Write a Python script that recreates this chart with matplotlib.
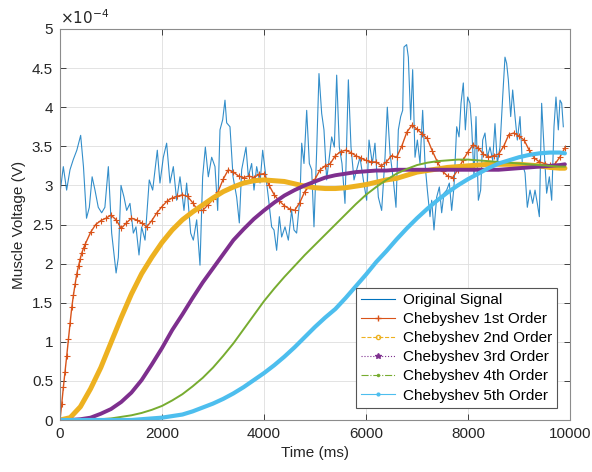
import matplotlib
matplotlib.use("Agg")
import matplotlib.pyplot as plt
from matplotlib.lines import Line2D

plt.rcParams['font.family'] = ['Liberation Sans', 'DejaVu Sans']

# original EMG signal, time in ms, voltage in 1e-4 V
t_raw = [0, 65, 130, 196, 260, 330, 405, 460, 520, 575, 630, 686, 750, 817, 880, 948,
         1013, 1100, 1144, 1196, 1255, 1307, 1372, 1438, 1490, 1549, 1600, 1667, 1750,
         1817, 1908, 1960, 2026, 2091, 2157, 2222, 2287, 2353, 2431, 2483, 2562, 2614,
         2680, 2745, 2797, 2850, 2908, 2974, 3039, 3092, 3137, 3190, 3235, 3268, 3333,
         3393, 3464, 3516, 3562, 3608, 3647, 3693, 3758, 3804, 3856, 3922, 3974, 4020,
         4085, 4150, 4196, 4248, 4301, 4346, 4412, 4477, 4542, 4588, 4640, 4706, 4739,
         4784, 4837, 4889, 4935, 4980, 5033, 5078, 5131, 5176, 5229, 5281, 5327, 5379,
         5425, 5477, 5529, 5588, 5654, 5706, 5765, 5817, 5882, 5948, 6013, 6059, 6124,
         6176, 6242, 6307, 6373, 6418, 6471, 6536, 6588, 6634, 6680, 6719, 6745, 6797,
         6830, 6876, 6915, 6961, 7007, 7059, 7111, 7157, 7203, 7255, 7288, 7333, 7386,
         7438, 7484, 7529, 7582, 7634, 7680, 7725, 7778, 7824, 7863, 7908, 7948, 7993,
         8039, 8072, 8118, 8157, 8203, 8248, 8288, 8333, 8379, 8431, 8484, 8529, 8575,
         8627, 8680, 8725, 8758, 8791, 8837, 8876, 8922, 8967, 9020, 9065, 9118, 9163,
         9216, 9268, 9314, 9359, 9399, 9444, 9490, 9542, 9595, 9641, 9686, 9725, 9771,
         9804, 9837, 9869]
v_raw = [2.90, 3.24, 2.94, 3.20, 3.33, 3.45, 3.64, 3.24, 2.58, 2.72, 3.11, 2.94, 2.72, 2.65,
         2.72, 3.24, 2.39, 1.88, 2.08, 3.00, 2.85, 2.68, 2.77, 2.39, 2.47, 2.11, 2.47, 2.30,
         3.07, 2.94, 3.45, 3.03, 3.36, 3.54, 3.03, 3.24, 2.81, 3.11, 2.68, 3.03, 2.39, 2.30,
         2.56, 1.98, 3.11, 3.49, 3.11, 3.36, 3.24, 2.68, 3.71, 3.84, 4.09, 3.80, 3.75, 3.11,
         2.85, 2.52, 3.20, 3.36, 3.49, 3.11, 3.28, 2.94, 3.24, 3.03, 3.45, 3.20, 2.85, 2.47,
         2.43, 2.17, 2.60, 2.34, 2.47, 2.30, 2.68, 2.43, 2.39, 2.85, 3.54, 3.28, 3.96, 3.28,
         3.20, 2.47, 3.45, 4.43, 3.92, 3.71, 3.07, 3.36, 3.62, 3.49, 4.41, 3.49, 3.28, 2.77,
         4.35, 3.49, 3.07, 3.20, 3.36, 3.07, 2.81, 3.58, 3.28, 3.54, 2.85, 2.68, 3.36, 4.00,
         3.41, 3.07, 2.72, 3.71, 3.88, 3.96, 4.77, 4.80, 4.64, 3.84, 4.48, 3.36, 3.58, 3.28,
         3.96, 3.28, 2.94, 2.60, 2.81, 2.43, 2.85, 2.98, 2.65, 2.90, 2.94, 3.03, 2.68, 2.98,
         3.75, 3.62, 4.05, 4.31, 3.71, 4.13, 4.05, 3.75, 3.11, 3.88, 2.81, 2.94, 3.58, 3.67,
         3.36, 3.49, 3.32, 3.79, 3.28, 3.49, 4.13, 4.64, 4.56, 4.35, 3.88, 4.22, 3.88, 3.58,
         3.88, 3.28, 3.16, 2.72, 2.94, 2.77, 2.94, 2.77, 2.60, 4.05, 3.49, 2.90, 3.11, 2.81,
         3.75, 4.13, 3.71, 4.09, 4.05, 3.75]

# 1st order output
t_o1 = [0, 33, 66, 99, 132, 165, 198, 231, 264, 297, 330, 363, 396, 429, 462, 495,
        600, 700, 800, 900, 1000, 1100, 1200, 1300, 1400, 1500, 1600, 1700, 1800, 1900,
        2000, 2100, 2200, 2300, 2400, 2500, 2600, 2700, 2800, 2900, 3000, 3100, 3200,
        3300, 3400, 3500, 3600, 3700, 3800, 3900, 4000, 4100, 4200, 4300, 4400, 4500,
        4600, 4700, 4800, 4900, 5000, 5100, 5200, 5300, 5400, 5500, 5600, 5700, 5800,
        5900, 6000, 6100, 6200, 6300, 6400, 6500, 6600, 6700, 6800, 6900, 7000, 7100,
        7200, 7300, 7400, 7500, 7600, 7700, 7800, 7900, 8000, 8100, 8200, 8300, 8400,
        8500, 8600, 8700, 8800, 8900, 9000, 9100, 9200, 9300, 9400, 9500, 9600, 9700,
        9800, 9900]
v_o1 = [0.00, 0.20, 0.42, 0.62, 0.82, 1.03, 1.24, 1.44, 1.60, 1.74, 1.87, 1.97, 2.06, 2.14,
        2.20, 2.25, 2.40, 2.50, 2.55, 2.58, 2.62, 2.56, 2.45, 2.52, 2.58, 2.56, 2.52, 2.47,
        2.55, 2.65, 2.73, 2.80, 2.84, 2.86, 2.88, 2.86, 2.78, 2.68, 2.68, 2.75, 2.82, 2.92,
        3.08, 3.20, 3.17, 3.12, 3.10, 3.12, 3.10, 3.14, 3.15, 3.00, 2.88, 2.80, 2.74, 2.70,
        2.68, 2.78, 2.92, 3.00, 3.08, 3.20, 3.25, 3.28, 3.38, 3.43, 3.45, 3.42, 3.38, 3.35,
        3.32, 3.30, 3.30, 3.25, 3.30, 3.38, 3.36, 3.50, 3.68, 3.77, 3.72, 3.66, 3.60, 3.44,
        3.30, 3.18, 3.12, 3.10, 3.20, 3.32, 3.43, 3.52, 3.48, 3.40, 3.36, 3.38, 3.40, 3.50,
        3.65, 3.67, 3.63, 3.58, 3.45, 3.35, 3.30, 3.28, 3.26, 3.27, 3.36, 3.48]

# 2nd to 5th order outputs, sampled every 200 ms
t_filt = [0, 200, 400, 600, 800, 1000, 1200, 1400, 1600, 1800, 2000, 2200, 2400, 2600,
          2800, 3000, 3200, 3400, 3600, 3800, 4000, 4200, 4400, 4600, 4800, 5000, 5200,
          5400, 5600, 5800, 6000, 6200, 6400, 6600, 6800, 7000, 7200, 7400, 7600, 7800,
          8000, 8200, 8400, 8600, 8800, 9000, 9200, 9400, 9600, 9800, 9900]
v_o2 = [0.00, 0.03, 0.17, 0.40, 0.67, 0.99, 1.31, 1.61, 1.87, 2.08, 2.27, 2.43, 2.56, 2.66,
        2.75, 2.84, 2.92, 2.98, 3.03, 3.06, 3.07, 3.06, 3.05, 3.02, 2.99, 2.97, 2.96, 2.96,
        2.97, 2.99, 3.01, 3.04, 3.07, 3.09, 3.13, 3.17, 3.19, 3.21, 3.23, 3.24, 3.25, 3.26,
        3.27, 3.27, 3.27, 3.27, 3.26, 3.25, 3.23, 3.22, 3.22]
v_o3 = [0.00, 0.00, 0.01, 0.03, 0.08, 0.14, 0.23, 0.35, 0.51, 0.71, 0.92, 1.15, 1.35, 1.56,
        1.76, 1.94, 2.12, 2.30, 2.44, 2.57, 2.68, 2.78, 2.87, 2.94, 3.00, 3.05, 3.10, 3.13,
        3.15, 3.17, 3.18, 3.19, 3.19, 3.20, 3.20, 3.20, 3.20, 3.20, 3.20, 3.20, 3.20, 3.20,
        3.20, 3.20, 3.21, 3.22, 3.23, 3.24, 3.25, 3.26, 3.27]
v_o4 = [0.00, 0.00, 0.00, 0.01, 0.01, 0.02, 0.04, 0.06, 0.09, 0.13, 0.18, 0.25, 0.33, 0.43,
        0.54, 0.67, 0.82, 0.98, 1.16, 1.34, 1.52, 1.68, 1.83, 1.97, 2.11, 2.24, 2.37, 2.50,
        2.63, 2.76, 2.88, 2.98, 3.07, 3.15, 3.21, 3.26, 3.29, 3.31, 3.32, 3.33, 3.33, 3.32,
        3.31, 3.30, 3.29, 3.28, 3.27, 3.26, 3.25, 3.24, 3.24]
v_o5 = [0.00, 0.00, 0.00, 0.00, 0.00, 0.00, 0.00, 0.00, 0.01, 0.02, 0.03, 0.05, 0.07, 0.11,
        0.16, 0.21, 0.27, 0.34, 0.42, 0.51, 0.60, 0.70, 0.81, 0.93, 1.06, 1.19, 1.31, 1.42,
        1.56, 1.71, 1.86, 2.02, 2.16, 2.31, 2.45, 2.58, 2.70, 2.81, 2.91, 3.00, 3.08, 3.15,
        3.22, 3.28, 3.32, 3.36, 3.39, 3.41, 3.42, 3.42, 3.41]

labels = ['Original Signal', 'Chebyshev 1st Order', 'Chebyshev 2nd Order',
          'Chebyshev 3rd Order', 'Chebyshev 4th Order', 'Chebyshev 5th Order']
colors = ['#0072BD', '#D95319', '#EDB120', '#7E2F8E', '#77AC30', '#4DBEEE']

fig = plt.figure(figsize=(5.92, 4.72), dpi=100)
ax = fig.add_axes([60 / 592, 1 - 420 / 472, 510 / 592, 391 / 472])

ax.plot(t_raw, v_raw, color=colors[0], lw=0.8, alpha=0.8)
ax.plot(t_o1, v_o1, color=colors[1], lw=1.0, marker='+', ms=4, mew=0.8)
ax.plot(t_filt, v_o2, color=colors[2], lw=3.6, solid_capstyle='round', solid_joinstyle='round')
ax.plot(t_filt, v_o3, color=colors[3], lw=2.8, solid_capstyle='round', solid_joinstyle='round')
ax.plot(t_filt, v_o4, color=colors[4], lw=1.4, solid_joinstyle='round')
ax.plot(t_filt, v_o5, color=colors[5], lw=3.0, solid_capstyle='round', solid_joinstyle='round')

ax.set_xlim(0, 10000)
ax.set_ylim(0, 5)
ax.set_xticks([0, 2000, 4000, 6000, 8000, 10000])
ax.set_yticks([0, 0.5, 1, 1.5, 2, 2.5, 3, 3.5, 4, 4.5, 5])
ax.set_yticklabels(['0', '0.5', '1', '1.5', '2', '2.5', '3', '3.5', '4', '4.5', '5'])
ax.tick_params(direction='in', top=True, right=True, length=4, width=0.6,
               labelsize=11, colors='#262626', pad=5)
for s in ax.spines.values():
    s.set_color('#8c8c8c')
    s.set_linewidth(0.8)
ax.grid(True, color='#dedede', lw=0.6)
ax.set_axisbelow(True)

ax.set_xlabel('Time (ms)', fontsize=11, color='#262626')
ax.set_ylabel('Muscle Voltage (V)', fontsize=11, color='#262626')
ax.text(0.0, 1.005, r'$\times10^{-4}$', transform=ax.transAxes, fontsize=11,
        color='#262626', ha='left', va='bottom')

handles = [
    Line2D([], [], color=colors[0], lw=0.8),
    Line2D([], [], color=colors[1], lw=0.8, ls='-', marker='+', ms=4),
    Line2D([], [], color=colors[2], lw=0.8, ls='--', marker='o', ms=3, mfc='none'),
    Line2D([], [], color=colors[3], lw=0.8, ls=':', marker='*', ms=4),
    Line2D([], [], color=colors[4], lw=0.8, ls='-.', marker='.', ms=3),
    Line2D([], [], color=colors[5], lw=0.8, ls='-', marker='.', ms=4),
]
leg = ax.legend(handles, labels, loc='lower right', bbox_to_anchor=(0.975, 0.031),
                borderaxespad=0, fontsize=11, fancybox=False, framealpha=1,
                edgecolor='#555555', handlelength=2.2, labelspacing=0.33,
                borderpad=0.35, handletextpad=0.5)
leg.get_frame().set_linewidth(0.8)

fig.savefig('out.png', dpi=100)
